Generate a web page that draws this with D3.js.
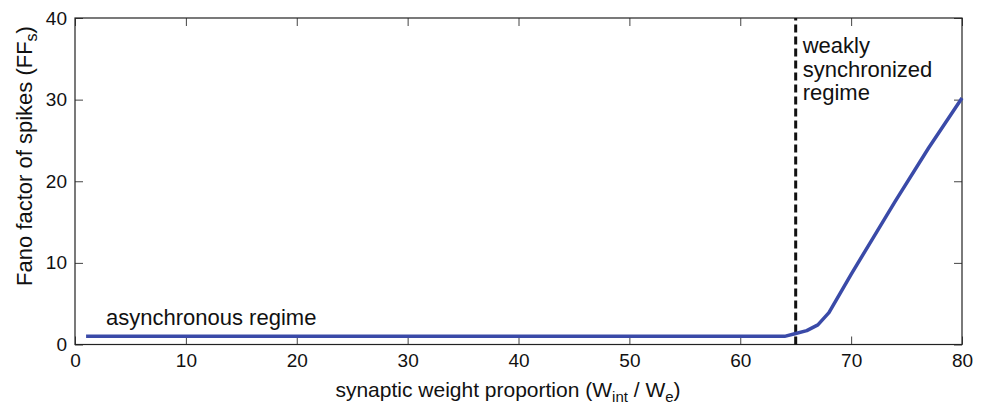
<!DOCTYPE html>
<html>
<head>
<meta charset="utf-8">
<script src="https://cdn.jsdelivr.net/npm/d3@7"></script>
<style>
	body { margin: 0; background: #fff; }
	svg { display: block; font-family: 'Liberation Sans', Arial, sans-serif; }
	.axis path { display: none; }
	.axis line { stroke: #444; stroke-width: 1; }
	.axis text { font-size: 19px; fill: #111; font-family: 'Liberation Sans', Arial, sans-serif; }
	.label { font-size: 21px; fill: #111; }
	.label-y { font-size: 22px; fill: #111; }
	.note { font-size: 22px; fill: #111; }
</style>
</head>
<body>
<svg width="982" height="407"></svg>
<script>
// values
const weightProportion = [1, 10, 20, 30, 40, 50, 60, 64, 65, 66, 67, 68, 70, 72, 74, 77, 80];
const fanoFactor = [1.0, 1.0, 1.0, 1.0, 1.0, 1.0, 1.0, 1.0, 1.35, 1.7, 2.4, 3.9, 8.6, 13.1, 17.6, 24.1, 30.2];
const xTicks = [0, 10, 20, 30, 40, 50, 60, 70, 80];
const yTicks = [0, 10, 20, 30, 40];
const regimeBoundary = 65;

const svg = d3.select('svg');

const margin = { top: 18, right: 20, bottom: 62.5, left: 75 };
const width = 982 - margin.left - margin.right;
const height = 407 - margin.top - margin.bottom;

const x = d3.scaleLinear().domain([0, 80]).range([0, width]);
const y = d3.scaleLinear().domain([0, 40]).range([height, 0]);

const g = svg.append('g')
	.attr('transform', `translate(${margin.left}, ${margin.top})`);

// ticks point inward on all four sides
g.append('g')
	.attr('class', 'axis')
	.attr('transform', `translate(0, ${height})`)
	.call(d3.axisBottom(x).tickValues(xTicks).tickSize(-8).tickPadding(9));

g.append('g')
	.attr('class', 'axis')
	.call(d3.axisTop(x).tickValues(xTicks).tickSize(-8).tickFormat(''));

g.append('g')
	.attr('class', 'axis')
	.call(d3.axisLeft(y).tickValues(yTicks).tickSize(-8).tickPadding(8));

g.append('g')
	.attr('class', 'axis')
	.attr('transform', `translate(${width}, 0)`)
	.call(d3.axisRight(y).tickValues(yTicks).tickSize(-8).tickFormat(''));

g.append('rect')
	.attr('width', width)
	.attr('height', height)
	.attr('fill', 'none')
	.attr('stroke', '#222')
	.attr('stroke-width', 1.2);

// boundary between the two regimes
g.append('line')
	.attr('x1', x(regimeBoundary))
	.attr('x2', x(regimeBoundary))
	.attr('y1', y(0))
	.attr('y2', y(40))
	.attr('stroke', '#111')
	.attr('stroke-width', 3)
	.attr('stroke-dasharray', '8,4');

const line = d3.line()
	.x((d, i) => x(weightProportion[i]))
	.y((d) => y(d));

g.append('path')
	.datum(fanoFactor)
	.attr('d', line)
	.attr('fill', 'none')
	.attr('stroke', '#3a4aa8')
	.attr('stroke-width', 3.5)
	.attr('stroke-linejoin', 'round');

// annotations
g.append('text')
	.attr('class', 'note')
	.attr('x', x(2.8))
	.attr('y', y(2.4))
	.text('asynchronous regime');

const weakLabel = g.append('text')
	.attr('class', 'note')
	.attr('x', x(regimeBoundary) + 7)
	.attr('y', 35);

['weakly', 'synchronized', 'regime'].forEach((word, i) => {
	weakLabel.append('tspan')
		.attr('x', x(regimeBoundary) + 7)
		.attr('dy', i === 0 ? 0 : 23.5)
		.text(word);
});

// axis titles
const xTitle = svg.append('text')
	.attr('class', 'label')
	.attr('text-anchor', 'middle')
	.attr('x', 508)
	.attr('y', 397);
xTitle.append('tspan').text('synaptic weight proportion (W');
xTitle.append('tspan').attr('dy', 5).attr('font-size', '15px').text('int');
xTitle.append('tspan').attr('dy', -5).text(' / W');
xTitle.append('tspan').attr('dy', 5).attr('font-size', '15px').text('e');
xTitle.append('tspan').attr('dy', -5).text(')');

const yTitle = svg.append('text')
	.attr('class', 'label-y')
	.attr('text-anchor', 'middle')
	.attr('transform', 'translate(32, 156) rotate(-90)');
yTitle.append('tspan').text('Fano factor of spikes (FF');
yTitle.append('tspan').attr('dy', 5).attr('font-size', '16px').text('s');
yTitle.append('tspan').attr('dy', -5).text(')');
</script>
</body>
</html>
